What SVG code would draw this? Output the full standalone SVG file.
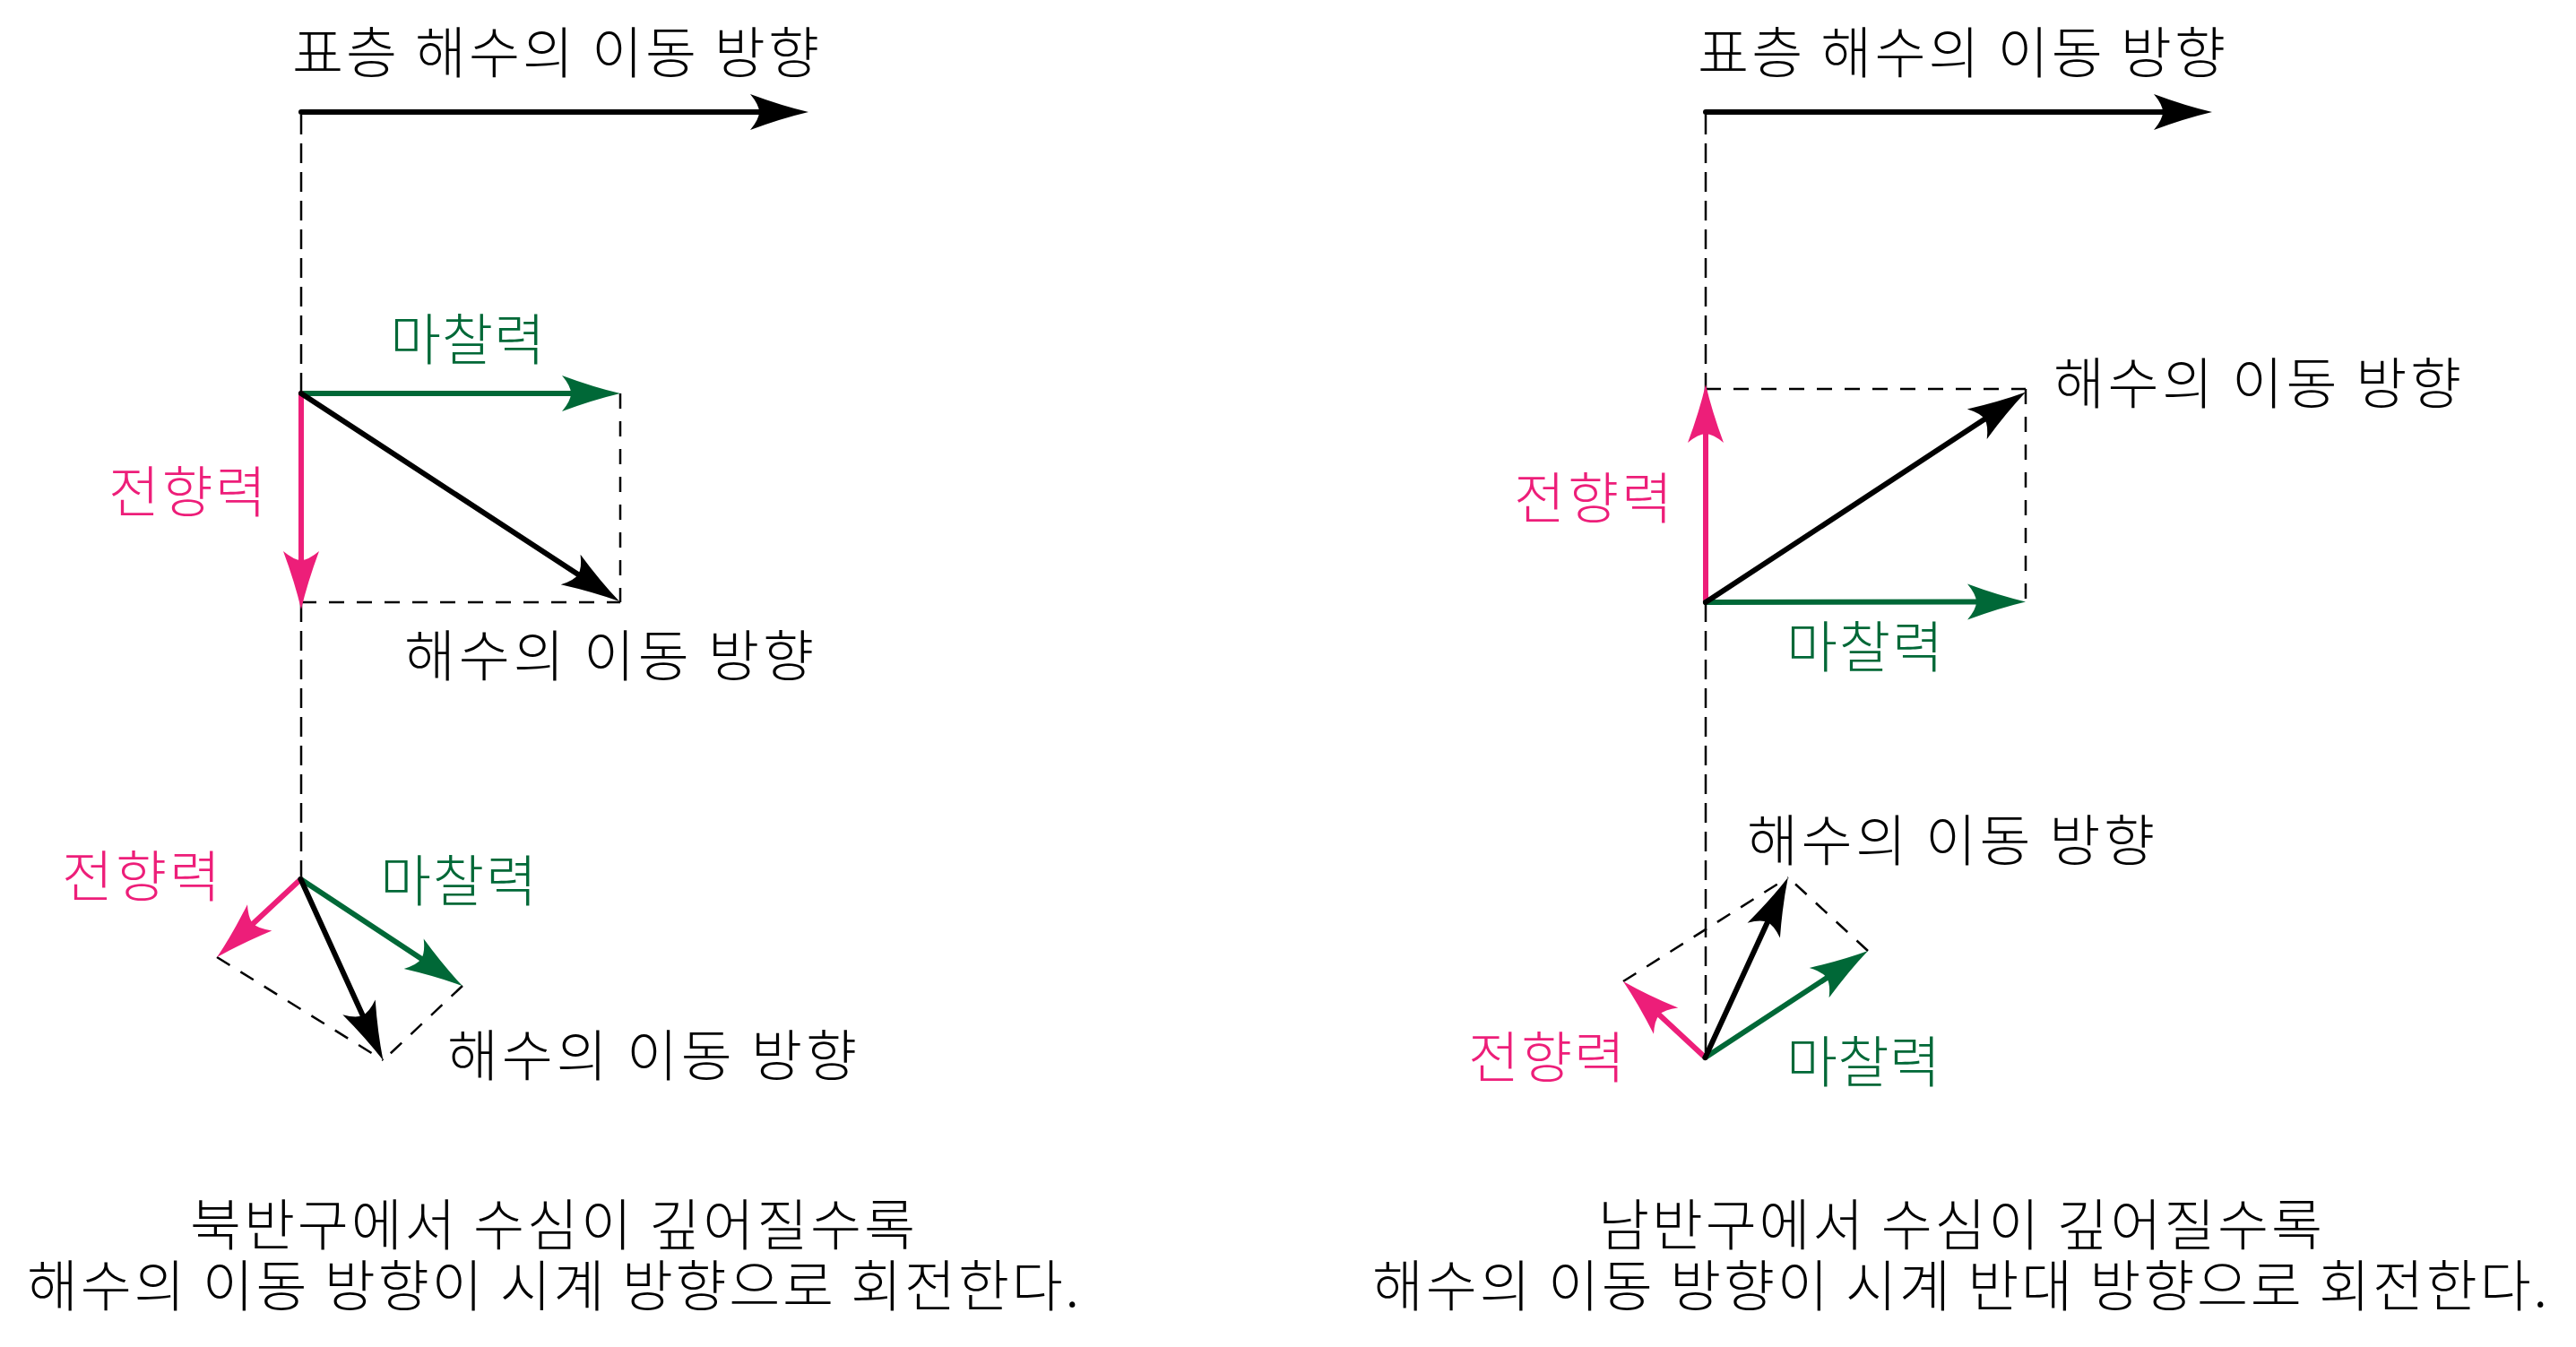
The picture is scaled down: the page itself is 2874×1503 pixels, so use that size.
<svg xmlns="http://www.w3.org/2000/svg" width="2874" height="1503" viewBox="0 0 2874 1503">
<style>
  text { font-family: "Noto Sans CJK KR", "Noto Sans", sans-serif; font-size: 62px; font-weight: 300; text-anchor: middle; }
  .k { fill: #000000; }
  .g { fill: #006837; }
  .p { fill: #ED1E79; }
  .ak { stroke: #000000; stroke-width: 6; fill: none; stroke-linecap: round; }
  .ag { stroke: #006837; stroke-width: 6; fill: none; stroke-linecap: round; }
  .ap { stroke: #ED1E79; stroke-width: 6; fill: none; stroke-linecap: round; }
  .dv { stroke: #000000; stroke-width: 2.5; fill: none; stroke-dasharray: 22 10; }
  .dr { stroke: #000000; stroke-width: 2.5; fill: none; stroke-dasharray: 17 14; }
</style>
<defs>
  <marker id="hk" markerUnits="userSpaceOnUse" viewBox="-70 -25 75 50" markerWidth="75" markerHeight="50" refX="-50" refY="0" orient="auto" overflow="visible">
    <path d="M0,0 Q-30,-7 -65,-20 Q-55,-8 -55,0 Q-55,8 -65,20 Q-30,7 0,0Z" fill="#000000"/>
  </marker>
  <marker id="hg" markerUnits="userSpaceOnUse" viewBox="-70 -25 75 50" markerWidth="75" markerHeight="50" refX="-50" refY="0" orient="auto" overflow="visible">
    <path d="M0,0 Q-30,-7 -65,-20 Q-55,-8 -55,0 Q-55,8 -65,20 Q-30,7 0,0Z" fill="#006837"/>
  </marker>
  <marker id="hp" markerUnits="userSpaceOnUse" viewBox="-70 -25 75 50" markerWidth="75" markerHeight="50" refX="-50" refY="0" orient="auto" overflow="visible">
    <path d="M0,0 Q-30,-7 -65,-20 Q-55,-8 -55,0 Q-55,8 -65,20 Q-30,7 0,0Z" fill="#ED1E79"/>
  </marker>
</defs>
<rect x="0" y="0" width="2874" height="1503" fill="#ffffff"/>

<g id="connectors">
  <!-- LEFT: dashed guides -->
  <line class="dv" x1="336" y1="128" x2="336" y2="981"/>
  <line class="dr" x1="692" y1="439" x2="692" y2="672"/>
  <line class="dr" x1="336" y1="672" x2="692" y2="672"/>
  <line class="dr" x1="242" y1="1068" x2="427.5" y2="1183"/>
  <line class="dr" x1="516" y1="1100" x2="427.5" y2="1183"/>
  <!-- RIGHT: dashed guides -->
  <line class="dv" x1="1903" y1="128" x2="1903" y2="1180"/>
  <line class="dr" x1="1903" y1="434" x2="2260" y2="434"/>
  <line class="dr" x1="2260" y1="434" x2="2260" y2="672"/>
  <line class="dr" x1="1811" y1="1095" x2="1995" y2="979"/>
  <line class="dr" x1="2084" y1="1061" x2="1995" y2="979"/>

  <!-- LEFT arrows (line ends 50px short of tip; marker tip reaches tip) -->
  <line class="ak" x1="336" y1="125" x2="852" y2="125" marker-end="url(#hk)"/>
  <line class="ag" x1="336" y1="439" x2="642" y2="439" marker-end="url(#hg)"/>
  <line class="ap" x1="336" y1="439" x2="336" y2="630" marker-end="url(#hp)"/>
  <line class="ak" x1="336" y1="439" x2="649.2" y2="643.7" marker-end="url(#hk)"/>
  <!-- lower left -->
  <line class="ap" x1="335.5" y1="981" x2="278.7" y2="1034" marker-end="url(#hp)"/>
  <line class="ag" x1="335.5" y1="981" x2="474.2" y2="1072.5" marker-end="url(#hg)"/>
  <line class="ak" x1="335.5" y1="981" x2="406.7" y2="1137.5" marker-end="url(#hk)"/>

  <!-- RIGHT arrows -->
  <line class="ak" x1="1903" y1="125" x2="2418" y2="125" marker-end="url(#hk)"/>
  <line class="ap" x1="1903" y1="672" x2="1903" y2="479" marker-end="url(#hp)"/>
  <line class="ag" x1="1903" y1="672" x2="2210" y2="671.5" marker-end="url(#hg)"/>
  <line class="ak" x1="1903" y1="672" x2="2218.3" y2="465" marker-end="url(#hk)"/>
  <!-- lower right -->
  <line class="ap" x1="1902.5" y1="1180" x2="1847.6" y2="1129" marker-end="url(#hp)"/>
  <line class="ag" x1="1902.5" y1="1180" x2="2042.2" y2="1088.4" marker-end="url(#hg)"/>
  <line class="ak" x1="1902.5" y1="1180" x2="1974" y2="1024.4" marker-end="url(#hk)"/>
</g>

<g id="left-title"><text class="k" x="620" y="82" textLength="588">표층 해수의 이동 방향</text></g>
<g id="left-friction"><text class="g" x="521.5" y="402" textLength="173">마찰력</text></g>
<g id="left-coriolis"><text class="p" x="209" y="572" textLength="176">전향력</text></g>
<g id="left-motion"><text class="k" x="679.5" y="755" textLength="457">해수의 이동 방향</text></g>
<g id="left-coriolis-deep"><text class="p" x="157.5" y="1001" textLength="177">전향력</text></g>
<g id="left-friction-deep"><text class="g" x="511.5" y="1006" textLength="175">마찰력</text></g>
<g id="left-motion-deep"><text class="k" x="727.5" y="1201" textLength="457">해수의 이동 방향</text></g>
<g id="left-caption">
  <text class="k" x="616.5" y="1390" textLength="809">북반구에서 수심이 깊어질수록</text>
  <text class="k" x="617" y="1458" textLength="1174">해수의 이동 방향이 시계 방향으로 회전한다.</text>
</g>

<g id="right-title"><text class="k" x="2188.5" y="82" textLength="589">표층 해수의 이동 방향</text></g>
<g id="right-motion"><text class="k" x="2518.5" y="451" textLength="455">해수의 이동 방향</text></g>
<g id="right-coriolis"><text class="p" x="1777.5" y="579" textLength="177">전향력</text></g>
<g id="right-friction"><text class="g" x="2080.5" y="745" textLength="175">마찰력</text></g>
<g id="right-motion-deep"><text class="k" x="2176.5" y="961" textLength="455">해수의 이동 방향</text></g>
<g id="right-coriolis-deep"><text class="p" x="1725.5" y="1203" textLength="175">전향력</text></g>
<g id="right-friction-deep"><text class="g" x="2079" y="1208" textLength="172">마찰력</text></g>
<g id="right-caption">
  <text class="k" x="2187" y="1390" textLength="808">남반구에서 수심이 깊어질수록</text>
  <text class="k" x="2186.5" y="1458" textLength="1311">해수의 이동 방향이 시계 반대 방향으로 회전한다.</text>
</g>
</svg>
